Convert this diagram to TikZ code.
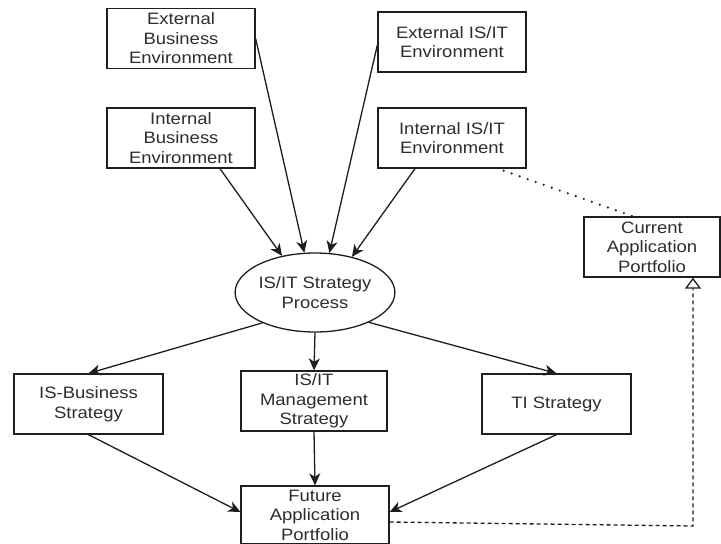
\documentclass[tikz,border=0pt]{standalone}
\usepackage{fontspec}
\setmainfont{Liberation Sans}[FakeStretch=1.12]
\usetikzlibrary{arrows.meta,shapes.geometric,calc}
\definecolor{txt}{RGB}{45,45,45}
\definecolor{ln}{RGB}{30,30,30}
\begin{document}
\begin{tikzpicture}[x=1pt,y=-1pt,
  box/.style={draw=ln,line width=1.3pt,minimum width=148pt,minimum height=60pt,inner sep=0pt,align=center,text=txt,font=\fontsize{16.5}{19.5}\selectfont},
  ell/.style={draw=ln,line width=1.3pt,ellipse,minimum width=148pt,minimum height=79pt,inner sep=0pt,align=center,text=txt,font=\fontsize{16.5}{19.5}\selectfont},
  arr/.style={draw=ln,line width=1.3pt,-{Stealth[length=12pt,width=11pt,inset=3.5pt]}},
  dotline/.style={draw=ln,line width=2.4pt,line cap=round,dash pattern=on 0pt off 8.5pt},
  dashline/.style={draw=ln,line width=1.3pt,dash pattern=on 4pt off 3pt},
]
\useasboundingbox[fill=white] (0,0) rectangle (721,544);

\node[box] (eb) at (181,38.5) {External\\Business\\Environment};
\node[box] (ei) at (452,42) {External IS/IT\\Environment};
\node[box] (ib) at (181,138) {Internal\\Business\\Environment};
\node[box] (ii) at (452,138) {Internal IS/IT\\Environment};
\node[ell] (sp) at (315,292.5) {IS/IT Strategy\\Process};
\node[box,minimum width=149pt] (isb) at (88.5,404) {IS-Business\\Strategy};
\node[box,minimum width=146pt] (mg) at (314,401) {IS/IT\\Management\\Strategy};
\node[box,minimum width=149pt] (ti) at (556.5,404) {TI Strategy};
\node[box,minimum width=136pt] (cap) at (652,247) {Current\\Application\\Portfolio};
\node[box,minimum height=58pt] (fap) at (315,515) {Future\\Application\\Portfolio};
\coordinate (corner) at (693,526);

\draw[arr] (eb.east) -- (sp.105);
\draw[arr] ([yshift=-3pt]ei.west) -- (sp.70);
\draw[arr] ([xshift=39pt]ib.south) -- (sp.132);
\draw[arr] ([xshift=-37pt]ii.south) -- (sp.44);

\draw[arr] (sp.210) -- (isb.north);
\draw[arr] (sp.270) -- (mg.north);
\draw[arr] (sp.331) -- (ti.north);

\draw[arr] (isb.south) -- ([yshift=3pt]fap.west);
\draw[arr] (mg.south) -- (fap.north);
\draw[arr] (ti.south) -- ([yshift=3pt]fap.east);

\draw[dotline] ([xshift=-23pt,yshift=-2pt]ii.south east) -- ([xshift=-19pt]cap.north);
\draw[dashline,-{Triangle[open,length=11pt,width=16pt]}] ([yshift=-7pt]fap.east) -- (corner) -- (corner |- cap.south);
\end{tikzpicture}
\end{document}
